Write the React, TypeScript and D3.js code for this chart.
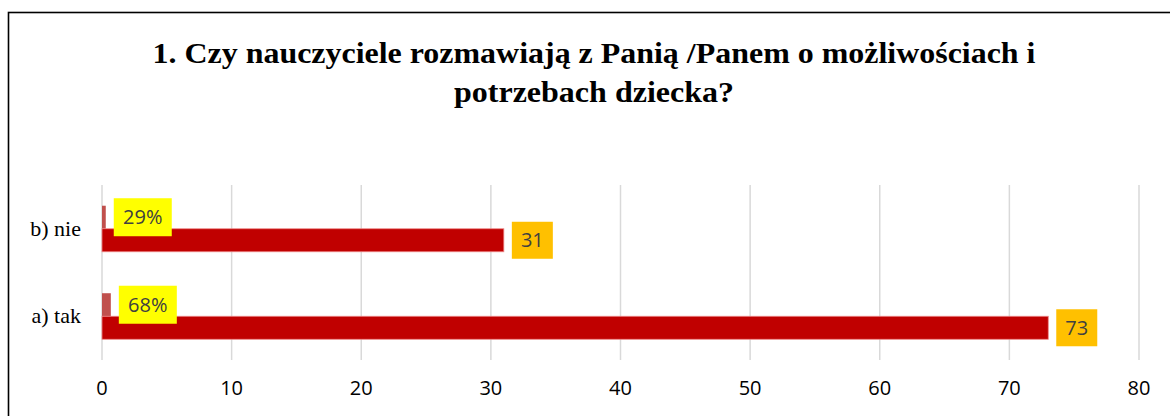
import React from "react";
import * as d3 from "d3";

const width = 1170,
  height = 416;
const margin = { top: 185, right: 31, bottom: 56, left: 102 };

const categories = ["b) nie", "a) tak"];
const percentValues = [0.29, 0.68];
const percentLabels = ["29%", "68%"];
const countValues = [31, 73];
const xTicks = [0, 10, 20, 30, 40, 50, 60, 70, 80];
const titleLines = [
  "1. Czy nauczyciele rozmawiają z Panią /Panem o możliwościach i",
  "potrzebach dziecka?",
];
const titleWidths = [883, 280];

const serif = "'Liberation Serif', 'Times New Roman', Tinos, 'DejaVu Serif', serif";
const sans = "'Open Sans', 'Liberation Sans', sans-serif";

export default function App() {
  const x = d3
    .scaleLinear()
    .domain([0, 80])
    .range([margin.left, width - margin.right]);

  const y = d3
    .scaleBand()
    .domain(categories)
    .range([margin.top, height - margin.bottom]);

  // two bars inside each category band: percent above, count below
  const inner = d3
    .scaleBand()
    .domain(["pct", "count"])
    .range([0, y.bandwidth()])
    .paddingInner(0)
    .paddingOuter(0.9);

  const barH = inner.bandwidth();

  return (
    <svg width={width} height={height} style={{ position: "absolute", left: 0, top: 0 }}>
      <rect x={0} y={0} width={width} height={height} fill="#fff" />
      <rect x={8.5} y={12.5} width={width + 10} height={height + 10} fill="none" stroke="#000" strokeWidth={1.6} />

      {titleLines.map((t, i) => (
        <text
          key={i}
          x={594 - titleWidths[i] / 2}
          y={63 + i * 39}
          textLength={titleWidths[i]}
          lengthAdjust="spacingAndGlyphs"
          style={{ fontFamily: serif, fontWeight: "bold", fontSize: 29 }}
          fill="#000"
        >
          {t}
        </text>
      ))}

      {/* gridlines */}
      {xTicks.map((t) => (
        <line
          key={t}
          x1={x(t)}
          x2={x(t)}
          y1={margin.top}
          y2={height - margin.bottom}
          stroke="#d9d9d9"
          strokeWidth={1.5}
        />
      ))}

      {xTicks.map((t) => (
        <text
          key={"l" + t}
          x={x(t)}
          y={395}
          textAnchor="middle"
          style={{ fontFamily: sans, fontSize: 20 }}
          fill="#000"
        >
          {t}
        </text>
      ))}

      {categories.map((c, i) => {
        const y0 = y(c)!;
        const yp = y0 + inner("pct")!;
        const yc = y0 + inner("count")!;
        const pEnd = x(percentValues[i]);
        const cEnd = x(countValues[i]);
        return (
          <g key={c}>
            <text
              x={81}
              y={y0 + y.bandwidth() / 2 + 7}
              textAnchor="end"
              style={{ fontFamily: serif, fontSize: 22 }}
              fill="#000"
            >
              {c}
            </text>
            <rect x={x(0)} y={yp} width={pEnd - x(0)} height={barH} fill="#c0504d" />
            <rect
              x={x(0)}
              y={yc}
              width={cEnd - x(0)}
              height={barH}
              fill="#c00000"
              stroke="#e88"
              strokeWidth={0.8}
            />
            <rect x={pEnd + 8} y={yp + barH / 2 - 19} width={58} height={38} fill="#ffff00" />
            <text
              x={pEnd + 8 + 29}
              y={yp + barH / 2 + 7}
              textAnchor="middle"
              style={{ fontFamily: sans, fontSize: 20 }}
              fill="#404040"
            >
              {percentLabels[i]}
            </text>
            <rect x={cEnd + 8} y={yc + barH / 2 - 18.5} width={41} height={37} fill="#ffc000" />
            <text
              x={cEnd + 8 + 20.5}
              y={yc + barH / 2 + 7}
              textAnchor="middle"
              style={{ fontFamily: sans, fontSize: 20 }}
              fill="#404040"
            >
              {countValues[i]}
            </text>
          </g>
        );
      })}
    </svg>
  );
}
